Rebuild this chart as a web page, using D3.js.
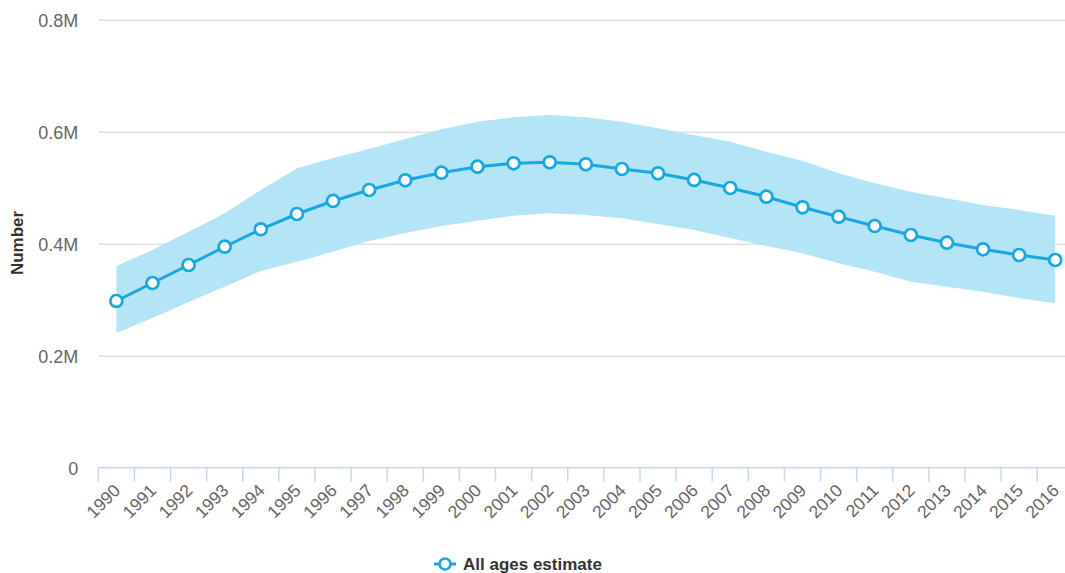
<!DOCTYPE html>
<html>
<head>
<meta charset="utf-8">
<script src="https://cdn.jsdelivr.net/npm/d3@7/dist/d3.min.js"></script>
<style>
  html, body { margin: 0; padding: 0; background: #fff; }
  svg { display: block; font-family: "Liberation Sans", Arial, sans-serif; }
</style>
</head>
<body>
<svg id="chart" width="1065" height="573"></svg>
<script>
const years = ["1990","1991","1992","1993","1994","1995","1996","1997","1998","1999","2000","2001","2002","2003","2004","2005","2006","2007","2008","2009","2010","2011","2012","2013","2014","2015","2016"];
const estimate = [297700,329800,362000,394600,425700,453000,476300,495900,513200,526800,537500,543600,545400,541800,533400,525700,513800,499500,483900,465000,448200,431600,415500,401800,390000,379800,370900];
const upper = [360200,388800,421400,454300,496000,534600,553000,569000,587000,604300,617900,625700,629800,625700,617900,606100,594100,582100,564300,548200,525700,507900,492900,481100,469100,460200,450000];
const lower = [240500,267300,295900,323200,351300,367900,385700,404800,419100,431600,441100,450000,454300,451300,445400,435200,424500,410200,395900,382900,365000,350000,332100,323200,314300,302500,293600];
const yTicks = [0, 200000, 400000, 600000, 800000];
const yTickLabels = ["0", "0.2M", "0.4M", "0.6M", "0.8M"];
const seriesName = "All ages estimate";
const yTitle = "Number";

const svg = d3.select("#chart");
const lineColor = "#14a8e4";
const bandColor = "#b3e5f7";

const x = d3.scaleBand().domain(years).range([98.3, 1073.3]).padding(0);
const y = d3.scaleLinear().domain([0, 800000]).range([467.7, 19.7]);
const cx = d => x(d) + x.bandwidth() / 2;

// gridlines + y labels
const yAxis = d3.axisLeft(y)
  .tickValues(yTicks)
  .tickSize(-(1073.3 - 98.3))
  .tickPadding(20)
  .tickFormat((d, i) => yTickLabels[i]);
const gy = svg.append("g").attr("transform", "translate(98.3,0)").call(yAxis);
gy.select(".domain").remove();
gy.selectAll(".tick line").attr("stroke", "#e0e0e0").attr("stroke-width", 1.5)
  .filter(d => d === 0).remove();
gy.selectAll(".tick text").attr("fill", "#666").attr("font-size", 18)
  .attr("dy", "0.36em");

// range band
const area = d3.area()
  .x((d, i) => cx(years[i]))
  .y0((d, i) => y(lower[i]))
  .y1((d, i) => y(upper[i]));
svg.append("path").datum(years).attr("d", area).attr("fill", bandColor);

// x axis line and ticks
svg.append("line").attr("x1", 98.3).attr("x2", 1073.3)
  .attr("y1", y(0)).attr("y2", y(0)).attr("stroke", "#ccd6eb").attr("stroke-width", 1.5);
const edges = years.map(d => x(d)).concat([x.range()[1]]);
svg.append("g").selectAll("line").data(edges).join("line")
  .attr("x1", d => d).attr("x2", d => d)
  .attr("y1", y(0)).attr("y2", y(0) + 14)
  .attr("stroke", "#ccd6eb").attr("stroke-width", 1.5);

// x labels
const xAxis = d3.axisBottom(x).tickSize(0).tickPadding(0);
const gx = svg.append("g").attr("transform", `translate(0,${y(0)})`).call(xAxis);
gx.select(".domain").remove();
gx.selectAll(".tick text")
  .attr("fill", "#666").attr("font-size", 17.5)
  .attr("text-anchor", "end")
  .attr("dy", 0).attr("y", 0)
  .attr("transform", "translate(5,24) rotate(-45)");

// line
const line = d3.line().x((d, i) => cx(years[i])).y(d => y(d));
svg.append("path").datum(estimate).attr("d", line)
  .attr("fill", "none").attr("stroke", lineColor).attr("stroke-width", 3);
svg.append("g").selectAll("circle").data(estimate).join("circle")
  .attr("cx", (d, i) => cx(years[i])).attr("cy", d => y(d)).attr("r", 6)
  .attr("fill", "#fff").attr("stroke", lineColor).attr("stroke-width", 2.7);

// y title
svg.append("text").attr("transform", "translate(23,243) rotate(-90)")
  .attr("text-anchor", "middle").attr("font-weight", "bold").attr("font-size", 17)
  .attr("fill", "#333").text(yTitle);

// legend
const lg = svg.append("g").attr("transform", "translate(0,564)");
lg.append("line").attr("x1", 434).attr("x2", 456).attr("y1", 0).attr("y2", 0)
  .attr("stroke", lineColor).attr("stroke-width", 3);
lg.append("circle").attr("cx", 445).attr("cy", 0).attr("r", 5.5)
  .attr("fill", "#fff").attr("stroke", lineColor).attr("stroke-width", 2.5);
lg.append("text").attr("x", 463).attr("y", 0).attr("dy", "0.35em")
  .attr("font-size", 17).attr("font-weight", "bold").attr("fill", "#333").text(seriesName);
</script>
</body>
</html>
